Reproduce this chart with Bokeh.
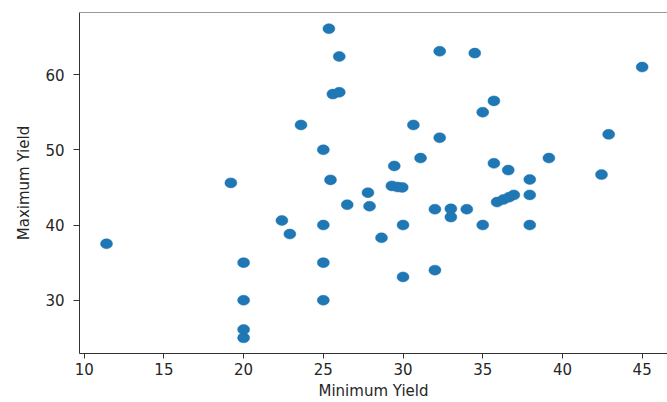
from bokeh.plotting import figure
from bokeh.models import ColumnDataSource, FixedTicker, Span, Range1d
from bokeh.embed import file_html
from bokeh.resources import INLINE

min_yield = [11.4, 19.2, 20.0, 20.0, 20.0, 20.0, 22.4, 22.9, 23.6,
             25.0, 25.0, 25.0, 25.0, 25.35, 25.45, 25.6, 26.0, 26.0,
             26.5, 27.8, 27.9, 28.65, 29.3, 29.65, 29.95, 29.45, 30.0,
             30.0, 30.65, 31.1, 32.0, 32.0, 32.3, 32.3, 33.0, 33.0,
             34.0, 34.5, 35.0, 35.0, 35.7, 35.7, 35.9, 36.3, 36.65,
             36.95, 36.6, 37.95, 37.95, 37.95, 39.15, 42.45, 42.9, 45.0]
max_yield = [37.5, 45.6, 35.0, 30.0, 26.1, 25.0, 40.6, 38.8, 53.3,
             50.0, 40.0, 35.0, 30.0, 66.1, 46.0, 57.4, 57.65, 62.4,
             42.7, 44.3, 42.5, 38.3, 45.2, 45.05, 45.0, 47.85, 40.0,
             33.1, 53.3, 48.9, 42.1, 34.0, 63.1, 51.6, 42.15, 41.05,
             42.1, 62.85, 55.0, 40.0, 56.5, 48.2, 43.05, 43.4, 43.7,
             44.0, 47.3, 46.05, 44.0, 40.0, 48.9, 46.7, 52.05, 61.0]

x_ticks = [10, 15, 20, 25, 30, 35, 40, 45]
y_ticks = [30, 40, 50, 60]
x_label = "Minimum Yield"
y_label = "Maximum Yield"

x_lo, x_hi = 9.705, 46.59
y_lo, y_hi = 22.92, 68.25

source = ColumnDataSource(data=dict(x=min_yield, y=max_yield))

p = figure(width=667, height=402, output_backend="svg", toolbar_location=None,
           x_range=Range1d(x_lo, x_hi), y_range=Range1d(y_lo, y_hi),
           min_border_left=79, min_border_right=0, min_border_top=12,
           min_border_bottom=49)
p.outline_line_color = None
p.grid.visible = False
p.background_fill_color = "white"
p.border_fill_color = "white"

p.ellipse(x="x", y="y", width=12, height=10, width_units="screen",
          height_units="screen", source=source, fill_color="#1f77b4",
          line_color="#1f77b4", line_width=0.5)

font = "DejaVu Sans"
for ax in (p.xaxis[0], p.yaxis[0]):
    ax.axis_line_color = "#333333"
    ax.axis_line_width = 1
    ax.major_tick_line_color = "#333333"
    ax.major_tick_in = 0
    ax.minor_tick_line_color = None
    ax.major_label_text_font = font
    ax.major_label_text_font_size = "15px"
    ax.major_label_text_color = "#262626"
    ax.axis_label_text_font = font
    ax.axis_label_text_font_size = "15px"
    ax.axis_label_text_font_style = "normal"
    ax.axis_label_text_color = "#262626"

p.xaxis.ticker = FixedTicker(ticks=x_ticks)
p.yaxis.ticker = FixedTicker(ticks=y_ticks)
p.xaxis.axis_label = x_label
p.yaxis.axis_label = y_label

p.xaxis.major_tick_out = 5
p.xaxis.major_label_standoff = 4
p.xaxis.axis_label_standoff = 4
p.yaxis.major_tick_out = 6
p.yaxis.major_label_standoff = 9
p.yaxis.axis_label_standoff = 9

top = Span(location=y_hi, dimension="width", line_color="#333333", line_width=1)
p.add_layout(top)

open("out.html", "w").write(file_html(p, INLINE))
